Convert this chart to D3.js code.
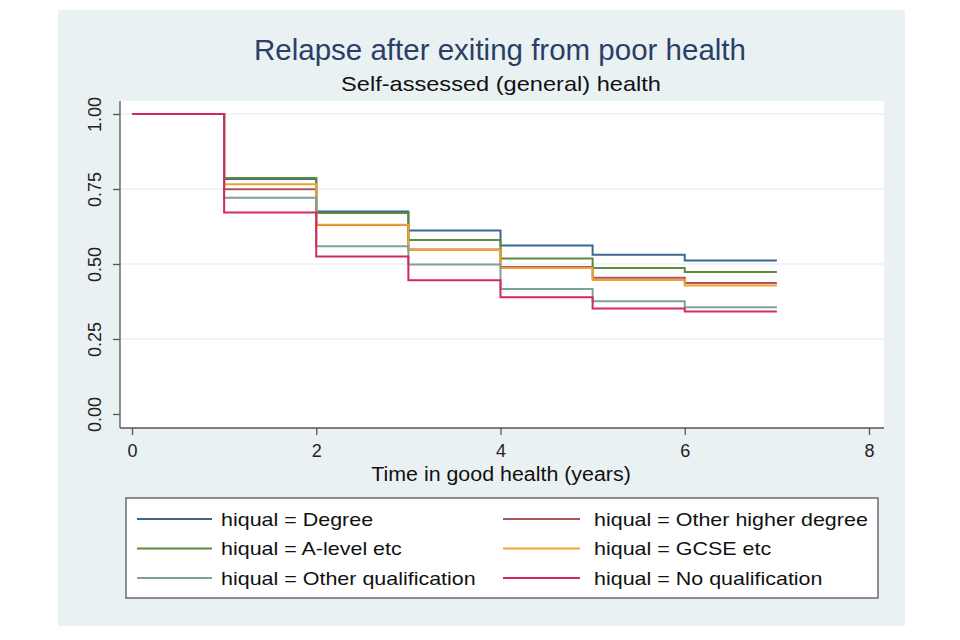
<!DOCTYPE html>
<html>
<head>
<meta charset="utf-8">
<script src="https://cdn.jsdelivr.net/npm/d3@7"></script>
<style>
  body { margin: 0; background: #fff; }
  svg { font-family: "Liberation Sans", Arial, sans-serif; }
</style>
</head>
<body>
<script>
// survival estimates, one value per year interval [t, t+1)
var years = [0, 1, 2, 3, 4, 5, 6, 7];
var degree       = [1, 0.783, 0.675, 0.612, 0.562, 0.531, 0.512];
var otherHigher  = [1, 0.749, 0.630, 0.548, 0.490, 0.454, 0.437];
var aLevel       = [1, 0.787, 0.670, 0.580, 0.518, 0.487, 0.473];
var gcse         = [1, 0.766, 0.631, 0.547, 0.487, 0.447, 0.428];
var otherQual    = [1, 0.721, 0.559, 0.498, 0.417, 0.376, 0.356];
var noQual       = [1, 0.672, 0.525, 0.446, 0.389, 0.352, 0.342];

var seriesNames = ["hiqual = Degree", "hiqual = Other higher degree", "hiqual = A-level etc",
    "hiqual = GCSE etc", "hiqual = Other qualification", "hiqual = No qualification"];
var seriesValues = [degree, otherHigher, aLevel, gcse, otherQual, noQual];
var colors = ["#3b6792", "#b0545c", "#5e8a3c", "#f0a12e", "#7fa298", "#d42a57"];

var xTicks = [0, 2, 4, 6, 8];
var yTicks = [0, 0.25, 0.5, 0.75, 1];

var w = 960, h = 640;
var svg = d3.select("body").append("svg").attr("width", w).attr("height", h);

// widen a text horizontally about its anchor x (the source graph is stretched)
function stretch(sel, sx) {
    var x0 = +sel.attr("x");
    sel.attr("transform", "translate(" + x0 + ",0) scale(" + sx + ",1) translate(" + (-x0) + ",0)");
    return sel;
}

// outer graph region
svg.append("rect").attr("x", 58).attr("y", 10).attr("width", 847).attr("height", 616)
    .attr("fill", "#eaf1f3");

var plot = { left: 120, right: 884, top: 101, bottom: 428 };
svg.append("rect").attr("x", plot.left).attr("y", plot.top)
    .attr("width", plot.right - plot.left).attr("height", plot.bottom - plot.top)
    .attr("fill", "#fff");

var x = d3.scaleLinear().domain([0, 8]).range([132, 869]);
var y = d3.scaleLinear().domain([0, 1]).range([414, 114]);

// grid
svg.selectAll("line.grid")
    .data(yTicks.slice(1))
    .enter()
    .append("line")
    .attr("class", "grid")
    .attr("x1", plot.left).attr("x2", plot.right)
    .attr("y1", function (d) { return y(d); })
    .attr("y2", function (d) { return y(d); })
    .attr("stroke", "#eaf1f3").attr("stroke-width", 1.5);

// axes
var yAxis = svg.append("g").attr("transform", "translate(" + plot.left + ",0)")
    .call(d3.axisLeft(y).tickValues(yTicks).tickFormat(d3.format(".2f")).tickSize(7));
yAxis.select(".domain").attr("d", "M0," + plot.top + "V" + plot.bottom);
yAxis.selectAll(".tick text")
    .attr("x", null).attr("dy", null)
    .attr("transform", "translate(-25,0) rotate(-90)")
    .attr("y", 0).attr("dy", "0.35em")
    .style("text-anchor", "middle")
    .attr("font-size", 18).attr("fill", "#222");

var xAxis = svg.append("g").attr("transform", "translate(0," + plot.bottom + ")")
    .call(d3.axisBottom(x).tickValues(xTicks).tickSize(7).tickPadding(9));
xAxis.select(".domain").attr("d", "M" + plot.left + ",0H" + plot.right);
xAxis.selectAll("text").attr("font-size", 18).attr("fill", "#222");

svg.selectAll(".domain, .tick line").attr("stroke", "#555").attr("stroke-width", 1.3);

stretch(svg.append("text").attr("x", 501).attr("y", 481).attr("text-anchor", "middle")
    .attr("font-size", 20).attr("fill", "#111").text("Time in good health (years)"), 1.07);

// titles
svg.append("text").attr("x", 500).attr("y", 60).attr("text-anchor", "middle")
    .attr("font-size", 29.5).attr("fill", "#2a3f66").text("Relapse after exiting from poor health");
stretch(svg.append("text").attr("x", 501).attr("y", 91).attr("text-anchor", "middle")
    .attr("font-size", 20).attr("fill", "#111").text("Self-assessed (general) health"), 1.18);

// step lines
var line = d3.line()
    .x(function (d) { return x(d[0]); })
    .y(function (d) { return y(d[1]); })
    .curve(d3.curveStepAfter);

seriesValues.forEach(function (vals, i) {
    var pts = vals.map(function (v, j) { return [years[j], v]; });
    pts.push([years[vals.length], vals[vals.length - 1]]);
    svg.append("path")
        .attr("d", line(pts))
        .attr("fill", "none")
        .attr("stroke", colors[i])
        .attr("stroke-width", 2);
});

// legend
var lg = svg.append("g");
lg.append("rect").attr("x", 126).attr("y", 498).attr("width", 752).attr("height", 100)
    .attr("fill", "#fff").attr("stroke", "#555").attr("stroke-width", 1.3);

var keyX = [[137, 212, 221], [503, 580, 594]];
seriesNames.forEach(function (name, i) {
    var k = keyX[i % 2];
    var ly = 519 + Math.floor(i / 2) * 29.5;
    lg.append("line").attr("x1", k[0]).attr("x2", k[1]).attr("y1", ly).attr("y2", ly)
        .attr("stroke", colors[i]).attr("stroke-width", 2);
    stretch(lg.append("text").attr("x", k[2]).attr("y", ly).attr("dy", "0.36em")
        .attr("font-size", 19).attr("fill", "#111").text(name), 1.13);
});
</script>
</body>
</html>
